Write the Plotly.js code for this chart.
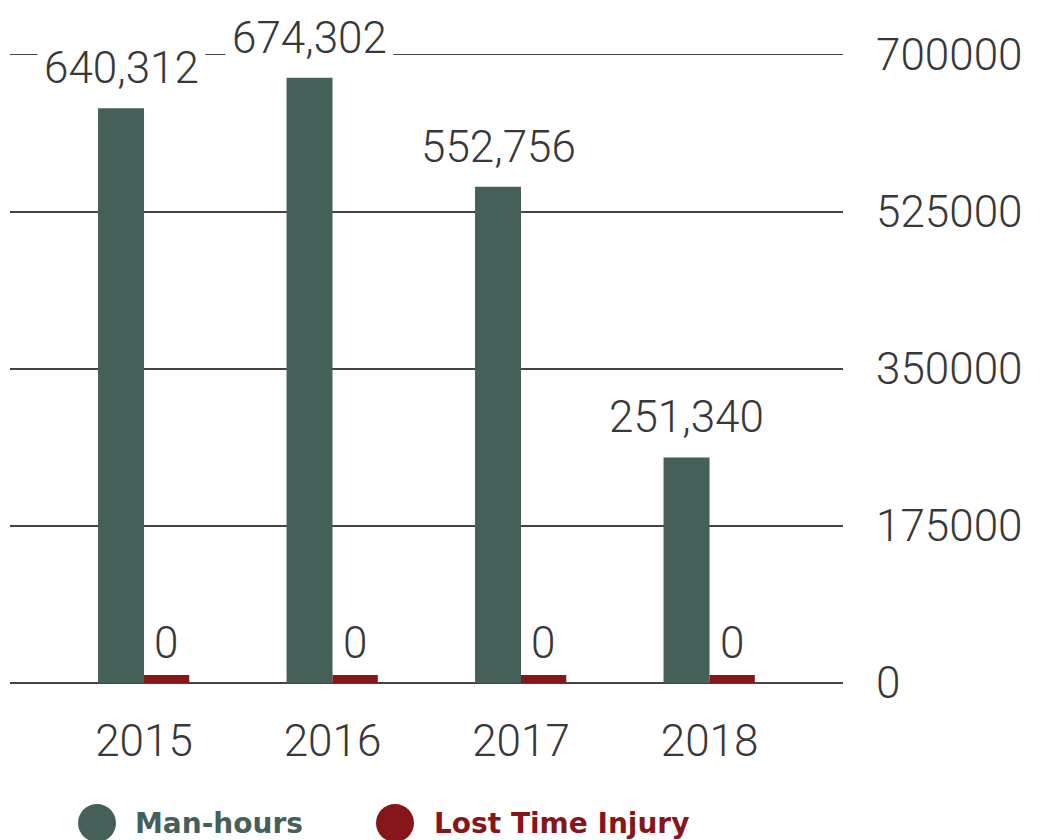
<!DOCTYPE html>
<html>
<head>
<meta charset="utf-8">
<script src="https://cdn.plot.ly/plotly-3.0.1.min.js"></script>
<style>html,body{margin:0;padding:0;background:#fff;}#chart{width:1040px;height:840px;}</style>
</head>
<body>
<div id="chart"></div>
<script>
// ---- data ----
const years = ['2015', '2016', '2017', '2018'];
const manHours = [640312, 674302, 552756, 251340];
const lostTimeInjury = [0, 0, 0, 0];
const yTickVals = [0, 175000, 350000, 525000, 700000];
const yTickText = ['0', '175000', '350000', '525000', '700000'];
const seriesNames = ['Man-hours', 'Lost Time Injury'];

// ---- style ----
const GREEN = '#455f59';
const RED = '#86161a';
const TEXT = '#383838';
const GRID = '#444444';
const numFont = {family: 'Roboto, "Open Sans", sans-serif', size: 44, color: TEXT, weight: 300};

const W = 1040, H = 840;
const M = {l: 10, r: 197, t: 52, b: 157};
const plotH = H - M.t - M.b;
const plotW = W - M.l - M.r;
const stub = 4; // px lift for the zero-height stub bars

const fmt = v => v.toLocaleString('en-US');

const traces = [
  {
    type: 'bar', name: seriesNames[0], x: years, y: manHours,
    marker: {color: GREEN}, width: 0.244, offset: -0.244,
    showlegend: false, hoverinfo: 'x+y', cliponaxis: false
  },
  {
    type: 'bar', name: seriesNames[1], x: years, y: lostTimeInjury, yaxis: 'y2',
    marker: {color: RED, line: {color: RED, width: 8}}, width: 0.24, offset: 0,
    showlegend: false, hoverinfo: 'x+y', cliponaxis: false
  }
];

const annotations = [];
years.forEach((yr, i) => {
  annotations.push({
    x: i, y: manHours[i], xref: 'x', yref: 'y', text: fmt(manHours[i]),
    showarrow: false, yanchor: 'middle', xanchor: 'center', xshift: -23, yshift: 40,
    font: numFont, bgcolor: '#ffffff', borderpad: 6
  });
  annotations.push({
    x: i, y: lostTimeInjury[i], xref: 'x', yref: 'y', text: fmt(lostTimeInjury[i]),
    showarrow: false, yanchor: 'middle', xanchor: 'center', xshift: 22, yshift: 40,
    font: numFont
  });
});

// legend (custom: large circles + bold coloured text)
const legendY = (683 - 823) / plotH;
const legendItems = [
  {cx: (97 - M.l) / plotW, tx: (133 - M.l) / plotW, color: GREEN, name: seriesNames[0]},
  {cx: (395 - M.l) / plotW, tx: (432 - M.l) / plotW, color: RED, name: seriesNames[1]}
];
const shapes = [];
legendItems.forEach(it => {
  shapes.push({
    type: 'circle', xref: 'paper', yref: 'paper', xsizemode: 'pixel', ysizemode: 'pixel',
    xanchor: it.cx, yanchor: legendY, x0: -19, x1: 19, y0: -19, y1: 19,
    fillcolor: it.color, line: {width: 0}
  });
  annotations.push({
    xref: 'paper', yref: 'paper', x: it.tx, y: legendY, xanchor: 'left', yanchor: 'middle',
    text: it.name, showarrow: false,
    font: {family: '"DejaVu Sans", sans-serif', size: 28, color: it.color, weight: 'bold'}
  });
});

const layout = {
  width: W, height: H,
  margin: M,
  paper_bgcolor: '#ffffff', plot_bgcolor: '#ffffff',
  showlegend: false,
  barmode: 'overlay',
  xaxis: {
    type: 'category', range: [-0.711, 3.708], showgrid: false, zeroline: false,
    showline: false, ticks: '', tickfont: numFont, ticklabelstandoff: 28, automargin: false
  },
  yaxis: {
    side: 'right', range: [0, 703000], tickvals: yTickVals, ticktext: yTickText,
    showgrid: true, gridcolor: GRID, gridwidth: 1.5,
    zeroline: true, zerolinecolor: GRID, zerolinewidth: 1.5,
    showline: false, ticks: '', tickfont: numFont, ticklabelstandoff: 32, automargin: false
  },
  yaxis2: {
    overlaying: 'y', side: 'right', range: [-stub, plotH - stub],
    visible: false, showgrid: false, zeroline: false, fixedrange: true
  },
  annotations: annotations,
  shapes: shapes
};

Plotly.newPlot('chart', traces, layout, {displayModeBar: false, staticPlot: true});
</script>
</body>
</html>
